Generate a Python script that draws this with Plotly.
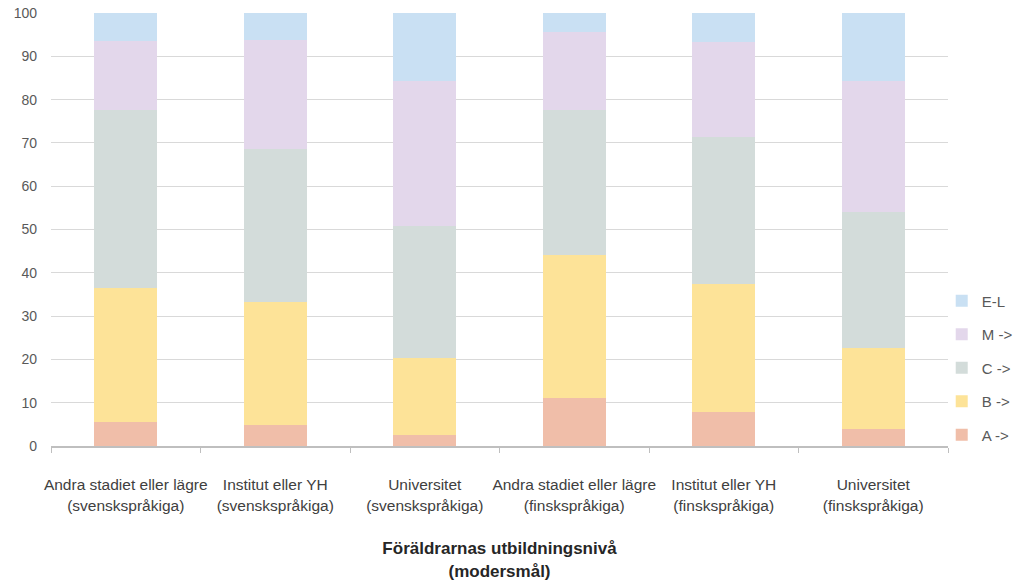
import plotly.graph_objects as go

categories = [
    "Andra stadiet eller lägre<br>(svenskspråkiga)",
    "Institut eller YH<br>(svenskspråkiga)",
    "Universitet<br>(svenskspråkiga)",
    "Andra stadiet eller lägre<br>(finskspråkiga)",
    "Institut eller YH<br>(finskspråkiga)",
    "Universitet<br>(finskspråkiga)",
]
series_names = ["A ->", "B ->", "C ->", "M ->", "E-L"]
a_vals = [5.5, 4.9, 2.5, 11.1, 7.9, 3.9]
b_vals = [30.9, 28.4, 17.8, 33.0, 29.5, 18.7]
c_vals = [41.3, 35.4, 30.5, 33.6, 34.0, 31.5]
m_vals = [15.9, 25.1, 33.6, 17.8, 22.0, 30.3]
e_vals = [6.4, 6.2, 15.6, 4.5, 6.6, 15.6]
colors = ["#F0BEA9", "#FDE398", "#D3DCDA", "#E3D7EB", "#C9E0F3"]
ranks = [5, 4, 3, 2, 1]

fig = go.Figure()
for name, vals, col, rk in zip(series_names, [a_vals, b_vals, c_vals, m_vals, e_vals], colors, ranks):
    fig.add_trace(go.Bar(x=categories, y=vals, name=name, marker_color=col,
                         marker_line_width=0, legendgroup=name, legendrank=rk))

fig.update_layout(
    width=1018, height=582,
    barmode="stack", bargap=0.58,
    margin=dict(l=51, r=70, t=13, b=136, autoexpand=False),
    plot_bgcolor="white", paper_bgcolor="white",
    font=dict(family="Liberation Sans", size=14, color="#404040"),
    legend=dict(traceorder="grouped", tracegroupgap=11,
                x=0.993, xanchor="left", y=0.18, yanchor="middle",
                bgcolor="rgba(0,0,0,0)",
                font=dict(size=15, color="#595959"), itemwidth=30),
    xaxis=dict(showline=True, linecolor="#BFBFBF", linewidth=1.5,
               ticks="outside", tickson="boundaries", ticklen=5, tickcolor="#BFBFBF",
               ticklabelstandoff=24, tickangle=0, automargin=False,
               tickfont=dict(size=15.5, color="#404040"),
               title=dict(text="<b>Föräldrarnas utbildningsnivå<br>(modersmål)</b>",
                          font=dict(size=17, color="#262626"), standoff=30)),
    yaxis=dict(range=[0, 100], dtick=10, showgrid=True, gridcolor="#D9D9D9", gridwidth=1.3,
               zeroline=False, ticklabelstandoff=13, automargin=False,
               tickfont=dict(size=14, color="#595959")),
)
fig.write_html("out.html", config={"displayModeBar": False},
               post_script="document.body.style.margin='0';")
